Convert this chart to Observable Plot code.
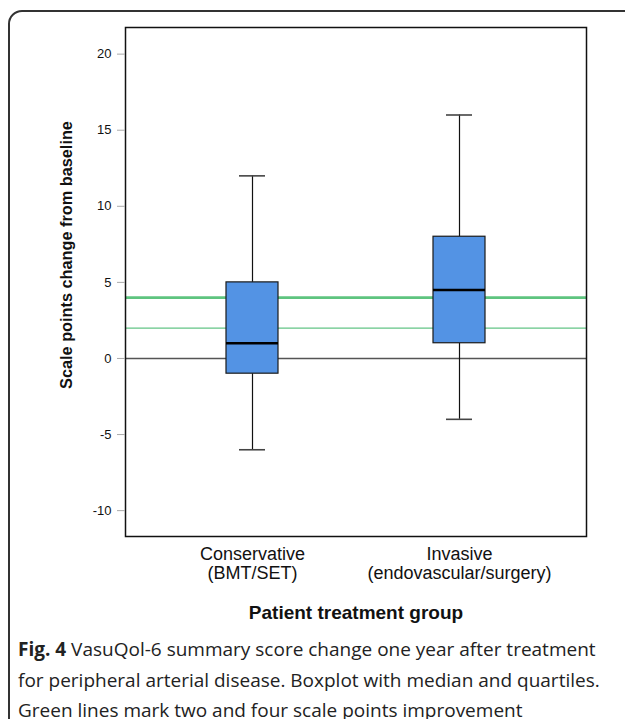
<!DOCTYPE html>
<html>
<head>
<meta charset="utf-8">
<script src="https://cdn.jsdelivr.net/npm/d3@7"></script>
<script src="https://cdn.jsdelivr.net/npm/@observablehq/plot@0.6"></script>
<style>
  html, body { margin: 0; padding: 0; background: #fff; overflow: hidden; width: 625px; height: 719px; }
  #wrap { position: relative; width: 625px; height: 719px; }
  #border { position: absolute; left: 8px; top: 10px; width: 660px; height: 760px; border: 2px solid #333; border-radius: 14px; box-sizing: border-box; }
  #chart { position: absolute; left: 0; top: 0; }
  #caption { position: absolute; left: 18px; top: 634px; width: 605px; font-family: "Open Sans", sans-serif; font-size: 19px; line-height: 30.5px; color: #222; white-space: nowrap; }
  #caption b { font-weight: 700; }
</style>
</head>
<body>
<div id="wrap">
  <div id="border"></div>
  <div id="chart"></div>
  <div id="caption"><b>Fig. 4</b> VasuQol-6 summary score change one year after treatment<br>for peripheral arterial disease. Boxplot with median and quartiles.<br>Green lines mark two and four scale points improvement</div>
</div>
<script>
const groups = ["Conservative\n(BMT/SET)", "Invasive\n(endovascular/surgery)"];
const whiskerLow = [-6, -4];
const quartile1 = [-1, 1];
const median = [1, 4.5];
const quartile3 = [5, 8];
const whiskerHigh = [12, 16];
const yTicks = [-10, -5, 0, 5, 10, 15, 20];
const zeroLine = [0];
const improvementMinor = [2];
const improvementMajor = [4];
const yLabel = "Scale points change from baseline";
const xLabel = "Patient treatment group";

const rows = groups.map((g, i) => ({
  group: g, lo: whiskerLow[i], q1: quartile1[i], med: median[i], q3: quartile3[i], hi: whiskerHigh[i]
}));

const plot = Plot.plot({
  width: 625,
  height: 625,
  marginTop: 27,
  marginLeft: 125,
  marginRight: 39,
  marginBottom: 89,
  style: { fontFamily: "'Liberation Sans', Arial, sans-serif", background: "transparent", overflow: "visible" },
  x: { type: "band", domain: groups, paddingInner: 0.749, paddingOuter: 0.488, axis: null },
  y: { domain: [-11.7, 21.75], axis: null },
  marks: [
    Plot.ruleY(improvementMinor, { stroke: "#63c486", strokeWidth: 1.3 }),
    Plot.ruleY(improvementMajor, { stroke: "#5ec47f", strokeWidth: 2.6 }),
    Plot.ruleY(zeroLine, { stroke: "#555", strokeWidth: 1.6 }),
    Plot.ruleX(rows, { x: "group", y1: "q3", y2: "hi", stroke: "#111", strokeWidth: 1.2 }),
    Plot.ruleX(rows, { x: "group", y1: "lo", y2: "q1", stroke: "#111", strokeWidth: 1.2 }),
    Plot.tickY(rows, { x: "group", y: "hi", stroke: "#444", strokeWidth: 1.6, insetLeft: 13, insetRight: 13 }),
    Plot.tickY(rows, { x: "group", y: "lo", stroke: "#444", strokeWidth: 1.6, insetLeft: 13, insetRight: 13 }),
    Plot.barY(rows, { x: "group", y1: "q1", y2: "q3", fill: "#5393e4", stroke: "#1a1a1a", strokeWidth: 1.2 }),
    Plot.tickY(rows, { x: "group", y: "med", stroke: "#000", strokeWidth: 2.6 }),
    Plot.frame({ stroke: "#111", strokeWidth: 1.5 }),
    Plot.axisY({ ticks: yTicks, tickFormat: d => String(d), tickSize: 8, tickPadding: 6, stroke: "#aaa", fill: "#111", fontSize: 13, label: null }),
    Plot.axisX({ tickSize: 0, tickPadding: 11, tickFormat: d => d.split("\n")[0], fontSize: 18, fill: "#111", label: null }),
    Plot.axisX({ tickSize: 0, tickPadding: 30, tickFormat: d => d.split("\n")[1], fontSize: 18, fill: "#111", label: null }),
    Plot.text([xLabel], { frameAnchor: "bottom", dy: 82, fontSize: 19, fontWeight: "bold", fill: "#111" }),
    Plot.text([yLabel], { frameAnchor: "left", textAnchor: "middle", rotate: -90, dx: -59, dy: -27, fontSize: 16.3, fontWeight: "bold", fill: "#111" })
  ]
});
document.getElementById("chart").appendChild(plot);
</script>
</body>
</html>
